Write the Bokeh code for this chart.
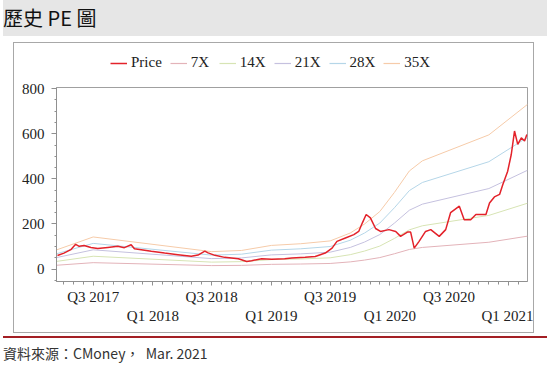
import pandas as pd
from bokeh.plotting import figure
from bokeh.models import (ColumnDataSource, Legend, LegendItem, LinearAxis,
                          FixedTicker, Div, Range1d)
from bokeh.layouts import column
from bokeh.embed import file_html
from bokeh.resources import INLINE

# ---------------- data ----------------
price_dates = [
    "2017-03-13", "2017-04-02", "2017-04-23", "2017-05-08", "2017-05-19", "2017-06-03",
    "2017-06-24", "2017-07-15", "2017-08-15", "2017-09-15", "2017-10-05", "2017-10-26",
    "2017-11-05", "2017-11-26", "2017-12-27", "2018-02-06", "2018-03-19", "2018-04-29",
    "2018-05-20", "2018-06-10", "2018-06-20", "2018-07-11", "2018-08-10", "2018-09-21",
    "2018-10-17", "2018-11-01", "2018-12-02", "2019-01-02", "2019-02-11", "2019-03-05",
    "2019-04-15", "2019-05-16", "2019-06-16", "2019-07-07", "2019-07-22", "2019-08-17",
    "2019-09-12", "2019-09-27", "2019-10-08", "2019-10-20", "2019-11-02", "2019-11-18",
    "2019-12-03", "2019-12-29", "2020-01-19", "2020-02-03", "2020-02-24", "2020-03-05",
    "2020-03-16", "2020-03-31", "2020-04-20", "2020-05-06", "2020-06-01", "2020-06-21",
    "2020-07-06", "2020-08-02", "2020-08-17", "2020-09-06", "2020-09-22", "2020-10-23",
    "2020-11-03", "2020-11-18", "2020-12-04", "2020-12-14", "2020-12-29", "2021-01-09",
    "2021-01-19", "2021-01-29", "2021-02-09", "2021-02-19", "2021-02-26",
]
price_values = [
    60, 71, 86, 110, 101, 105,
    96, 91, 96, 101, 95, 108,
    90, 86, 79, 71, 64, 57,
    62, 80, 72, 61, 52, 46,
    34, 37, 46, 44, 46, 49,
    52, 56, 71, 93, 123, 138,
    153, 167, 204, 242, 227, 180,
    167, 175, 167, 145, 164, 164,
    93, 123, 167, 175, 145, 175,
    250, 279, 219, 219, 242, 242,
    293, 320, 331, 375, 434, 508,
    612, 553, 582, 568, 597,
]

eps_dates = [
    "2017-03-10", "2017-07-01", "2018-07-01", "2018-10-01", "2019-01-01", "2019-04-01",
    "2019-07-01", "2019-09-01", "2019-10-15", "2019-12-01", "2020-01-15", "2020-03-01",
    "2020-04-10", "2020-11-01", "2021-02-28",
]
eps_values = [2.43, 4.07, 2.21, 2.36, 3.00, 3.21, 3.57, 4.57, 5.71, 7.29, 9.71, 12.43,
              13.71, 17.0, 20.86]

multiples = [7, 14, 21, 28, 35]
band_labels = ["7X", "14X", "21X", "28X", "35X"]
band_colors = ["#e3b3b9", "#d7e4b4", "#c5c1df", "#b5d6e8", "#f6cba9"]
price_color = "#e3222a"

tick_dates = ["2017-07-01", "2018-01-01", "2018-07-01", "2019-01-01", "2019-07-01",
              "2020-01-01", "2020-07-01", "2021-01-01"]
tick_labels = ["Q3 2017", "Q1 2018", "Q3 2018", "Q1 2019", "Q3 2019",
               "Q1 2020", "Q3 2020", "Q1 2021"]

x_start, x_end = "2017-03-10", "2021-02-28"
y_start, y_end = -55, 805
y_ticks = [0, 200, 400, 600, 800]

# ---------------- helpers ----------------
origin = pd.Timestamp("2017-01-01")


def day(d):
    return int((pd.Timestamp(d) - origin).days)


px = [day(d) for d in price_dates]
ex = [day(d) for d in eps_dates]

SERIF = "Liberation Serif"
BORDER = "1px solid #a8a8a8"

# ---------------- main chart ----------------
p = figure(width=521, height=260, output_backend="svg", toolbar_location=None,
           x_range=Range1d(day(x_start), day(x_end)),
           y_range=Range1d(y_start, y_end),
           min_border_left=42, min_border_right=8, min_border_top=14, min_border_bottom=52,
           margin=(0, 0, 0, 13))
p.styles = {"border": BORDER, "border-top": "none"}
p.grid.visible = False
p.outline_line_color = "#a0a0a0"
p.background_fill_color = "white"
p.border_fill_color = "white"

for m, col in zip(multiples, band_colors):
    src = ColumnDataSource(dict(x=ex, y=[e * m for e in eps_values]))
    p.line("x", "y", source=src, line_color=col, line_width=1.0)

psrc = ColumnDataSource(dict(x=px, y=price_values))
p.line("x", "y", source=psrc, line_color=price_color, line_width=1.5)

# y axis
ya = p.yaxis[0]
ya.ticker = FixedTicker(ticks=y_ticks, minor_ticks=list(range(-50, 801, 50)))
ya.axis_line_color = "#909090"
ya.major_tick_line_color = "#909090"
ya.minor_tick_line_color = "#909090"
ya.major_tick_out = 5
ya.major_tick_in = 0
ya.minor_tick_out = 2
ya.minor_tick_in = 0
ya.major_label_text_font = SERIF
ya.major_label_text_font_size = "15px"
ya.major_label_text_color = "#222222"
ya.major_label_standoff = 7

# x axis: ticks
tick_days = [day(d) for d in tick_dates]
month_days = [day(d) for d in pd.date_range("2017-04-01", "2021-02-01", freq="MS")]
xa = p.xaxis[0]
xa.ticker = FixedTicker(ticks=tick_days, minor_ticks=month_days)
xa.major_label_overrides = {d: (l if l.startswith("Q3") else " ")
                            for d, l in zip(tick_days, tick_labels)}
xa.axis_line_color = "#909090"
xa.major_tick_line_color = "#909090"
xa.minor_tick_line_color = "#909090"
xa.major_tick_out = 4
xa.major_tick_in = 0
xa.minor_tick_out = 3
xa.minor_tick_in = 0
xa.major_label_text_font = SERIF
xa.major_label_text_font_size = "15px"
xa.major_label_text_color = "#222222"
xa.major_label_standoff = 3

q1_days = [d for d, l in zip(tick_days, tick_labels) if l.startswith("Q1")]
xa2 = LinearAxis(ticker=FixedTicker(ticks=q1_days, minor_ticks=[]))
xa2.major_label_overrides = {d: l for d, l in zip(tick_days, tick_labels) if l.startswith("Q1")}
xa2.axis_line_alpha = 0
xa2.major_tick_line_alpha = 0
xa2.minor_tick_line_alpha = 0
xa2.major_tick_out = 0
xa2.major_tick_in = 0
xa2.major_label_text_font = SERIF
xa2.major_label_text_font_size = "15px"
xa2.major_label_text_color = "#222222"
xa2.major_label_standoff = 0
p.add_layout(xa2, "below")

# ---------------- legend strip (top of the bordered box) ----------------
lg = figure(width=521, height=31, output_backend="svg", toolbar_location=None,
            x_range=Range1d(0, 1), y_range=Range1d(0, 1),
            x_axis_location=None, y_axis_location=None,
            min_border_left=0, min_border_right=0, min_border_top=0, min_border_bottom=0,
            margin=(6, 0, 0, 13))
lg.styles = {"border": BORDER, "border-bottom": "none"}
lg.grid.visible = False
lg.outline_line_color = None
lg.background_fill_color = "white"
lg.border_fill_color = "white"

names = ["Price"] + band_labels
colors = [price_color] + band_colors
items = []
for name, col in zip(names, colors):
    # proxy glyphs lie outside the strip's visible range; only their legend swatch shows
    r = lg.line(x=[5, 6], y=[5, 6], line_color=col,
                line_width=1.5 if name == "Price" else 1.2)
    items.append(LegendItem(label=name, renderers=[r]))
legend = Legend(items=items, orientation="horizontal", location=(54, 3),
                label_text_font=SERIF, label_text_font_size="15px",
                label_text_color="#222222",
                glyph_width=17, glyph_height=12, label_standoff=4, spacing=8,
                padding=0, margin=0, border_line_alpha=0, background_fill_alpha=0)
lg.add_layout(legend, "center")

# ---------------- page furniture ----------------
header = Div(text="歷史 PE 圖", width=544, height=36, margin=(0, 0, 0, 3),
             styles={"background-color": "#e6e6e6", "font-family": "Noto Sans CJK TC",
                     "font-size": "20px", "line-height": "36px", "color": "#111111"})
rule = Div(text="", width=544, height=2, margin=(3, 0, 0, 3),
           styles={"background-color": "#a31f24"})
footer = Div(text="資料來源：CMoney，&nbsp;&nbsp;Mar. 2021", width=544, height=22,
             margin=(6, 0, 0, 3),
             styles={"font-family": "Noto Sans CJK TC", "font-size": "14px",
                     "line-height": "18px", "color": "#333333"})

layout = column(header, lg, p, rule, footer, spacing=0)

open("out.html", "w").write(file_html(layout, INLINE))
